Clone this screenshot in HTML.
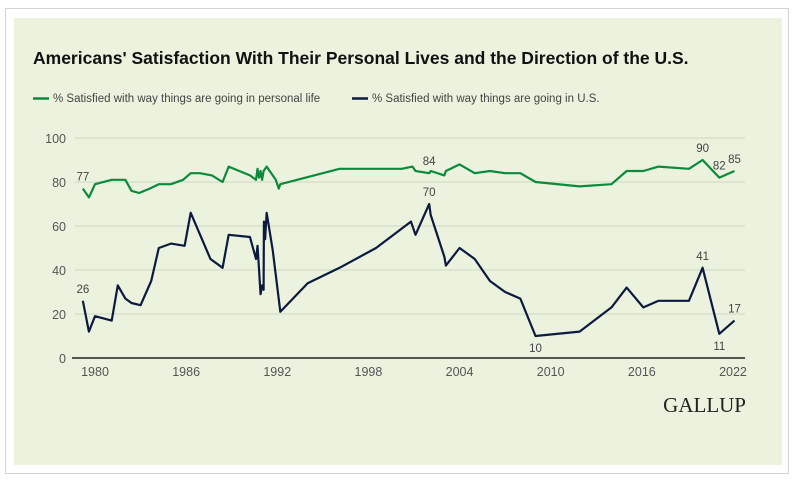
<!DOCTYPE html>
<html><head><meta charset="utf-8"><style>
body{margin:0;width:800px;height:486px;background:#fff;font-family:"Liberation Sans",sans-serif;overflow:hidden}
#frame{position:absolute;left:5px;top:8px;width:784px;height:466px;border:1px solid #d4d4d4;box-sizing:border-box}
#panel{position:absolute;left:14px;top:18px;width:768px;height:447px;background:#ebf2dd}
svg{position:absolute;left:0;top:0}
</style></head><body>
<div id="frame"></div>
<div id="panel"></div>
<svg id="chart" width="800" height="486">
<text x="33" y="64" font-size="17.5" font-weight="bold" fill="#111">Americans' Satisfaction With Their Personal Lives and the Direction of the U.S.</text>
<g><line x1="33" x2="49" y1="98.5" y2="98.5" stroke="#0b8a3b" stroke-width="2.5"/><text x="53" y="102" font-size="11.5" fill="#444">% Satisfied with way things are going in personal life</text></g>
<g><line x1="352" x2="368" y1="98.5" y2="98.5" stroke="#0d1a3f" stroke-width="2.5"/><text x="372" y="102" font-size="11.5" fill="#444">% Satisfied with way things are going in U.S.</text></g>
<text x="746" y="412" font-size="21" font-family="Liberation Serif,serif" fill="#222" text-anchor="end">GALLUP</text>
</svg>
<script>
const yTicks=[0,20,40,60,80,100];
const xTicks=[1980,1986,1992,1998,2004,2010,2016,2022];
const personalYears=[1979.2,1979.6,1980.0,1981.1,1982.0,1982.4,1982.9,1983.6,1984.2,1985.0,1985.8,1986.3,1986.9,1987.7,1988.4,1988.8,1990.2,1990.6,1990.7,1990.8,1990.9,1991.0,1991.1,1991.3,1991.9,1992.1,1992.2,1996.1,2000.2,2000.9,2001.1,2002.0,2002.1,2003.0,2003.1,2004.0,2005.0,2006.0,2007.0,2008.0,2009.0,2011.9,2014.0,2015.0,2016.1,2017.1,2019.1,2020.0,2021.1,2022.1];
const personalValues=[77,73,79,81,81,76,75,77,79,79,81,84,84,83,80,87,83,81,86,82,85,81,85,87,81,77,79,86,86,87,85,84,85,83,85,88,84,85,84,84,80,78,79,85,85,87,86,90,82,85];
const usYears=[1979.2,1979.6,1980.0,1981.1,1981.5,1982.0,1982.4,1983.0,1983.7,1984.2,1985.0,1985.9,1986.3,1987.6,1988.4,1988.8,1990.2,1990.6,1990.7,1990.9,1991.0,1991.1,1991.12,1991.2,1991.3,1991.7,1992.2,1994.0,1996.1,1998.5,2000.8,2001.1,2002.0,2002.1,2003.0,2003.1,2004.0,2005.0,2006.0,2007.0,2008.0,2009.0,2011.9,2014.0,2015.0,2016.1,2017.1,2019.1,2020.0,2021.1,2022.1];
const usValues=[26,12,19,17,33,27,25,24,35,50,52,51,66,45,41,56,55,45,51,29,33,31,62,54,66,49,21,34,41,50,62,56,70,65,46,42,50,45,35,30,27,10,12,23,32,23,26,26,41,11,17];
const personalLabels=[[0,"77",-8],[31,"84",-8],[47,"90",-8],[48,"82",-8],[49,"85",-8]];
const usLabels=[[0,"26",-8],[32,"70",-8],[41,"10",16],[48,"41",-8],[49,"11",16],[50,"17",-8]];

const svg=document.getElementById('chart');
const NS='http://www.w3.org/2000/svg';
const X=y=>95+(y-1980)*15.19;
const Y=v=>358-v*2.2;
function mk(t,a){const e=document.createElementNS(NS,t);for(const k in a)e.setAttribute(k,a[k]);svg.appendChild(e);return e;}
yTicks.forEach(v=>{
 if(v>0){const g=mk('line',{x1:75,x2:745,y1:Y(v),y2:Y(v),stroke:'#cfd6c4','stroke-width':1});
 
 }
 const t=mk('text',{x:66,y:Y(v)+5,'font-size':12.5,fill:'#555','text-anchor':'end'});t.textContent=v;
 
 
});
const ax=mk('line',{x1:72,x2:745,y1:Y(0),y2:Y(0),stroke:'#222','stroke-width':1.5});


xTicks.forEach(v=>{const t=mk('text',{x:X(v),y:376,'font-size':12.5,fill:'#555','text-anchor':'middle'});t.textContent=v;
 
 });
function series(xs,vs,col,name,labels){
 const p=mk('polyline',{points:xs.map((x,i)=>X(x)+','+Y(vs[i])).join(' '),fill:'none',stroke:col,'stroke-width':2.2,'stroke-linejoin':'round'});
 
 
 labels.forEach(([i,txt,dy])=>{const t=mk('text',{x:X(xs[i]),y:Y(vs[i])+dy,'font-size':11.5,fill:'#444','text-anchor':'middle'});t.textContent=txt;
  
  });
}
series(personalYears,personalValues,'#0b8a3b','personal-life-line',personalLabels);
series(usYears,usValues,'#0d1a3f','us-direction-line',usLabels);
</script>
</body></html>
